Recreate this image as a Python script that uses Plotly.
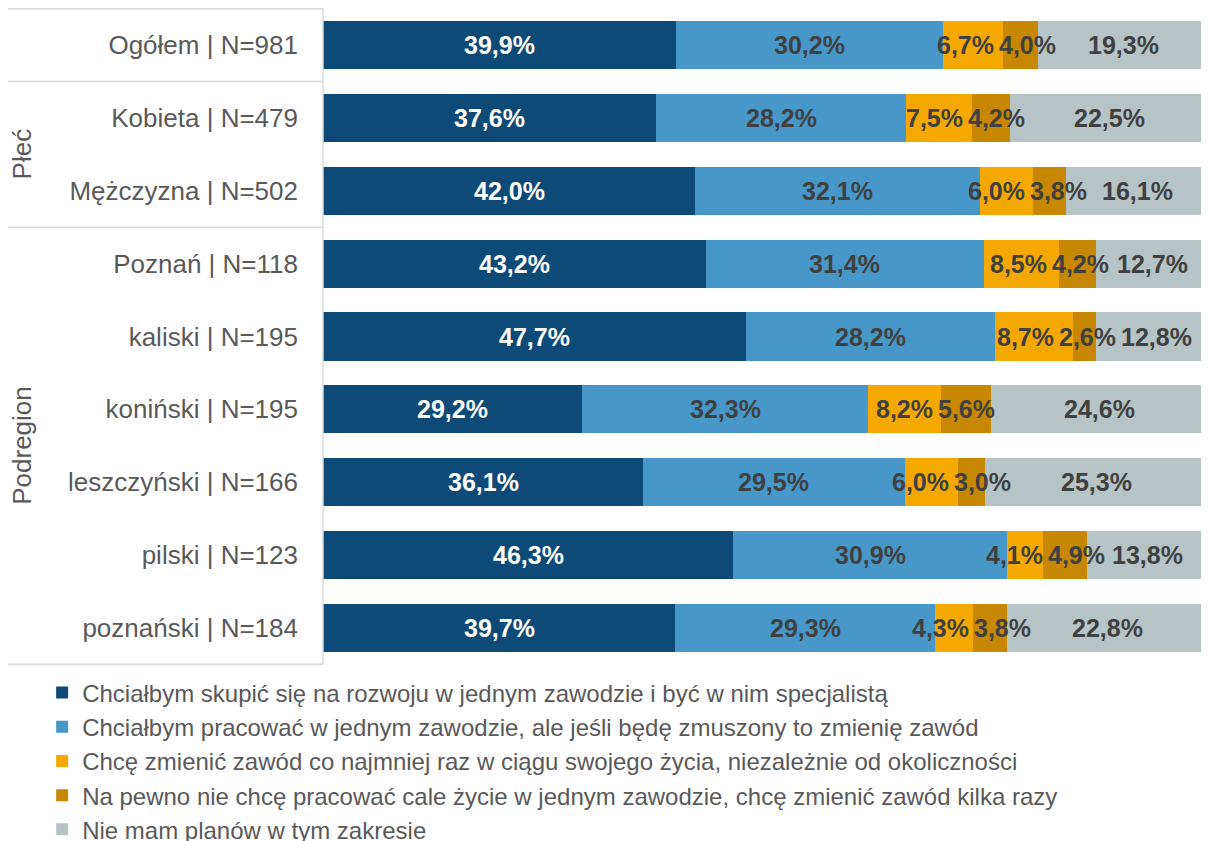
import plotly.graph_objects as go

categories = ["Ogółem | N=981", "Kobieta | N=479", "Mężczyzna | N=502",
              "Poznań | N=118", "kaliski | N=195", "koniński | N=195",
              "leszczyński | N=166", "pilski | N=123", "poznański | N=184"]

series_names = [
    "Chciałbym skupić się na rozwoju w jednym zawodzie i być w nim specjalistą",
    "Chciałbym pracować w jednym zawodzie, ale jeśli będę zmuszony to zmienię zawód",
    "Chcę zmienić zawód co najmniej raz w ciągu swojego życia, niezależnie od okoliczności",
    "Na pewno nie chcę pracować cale życie w jednym zawodzie, chcę zmienić zawód kilka razy",
    "Nie mam planów w tym zakresie",
]

s1 = [39.9, 37.6, 42.0, 43.2, 47.7, 29.2, 36.1, 46.3, 39.7]
s2 = [30.2, 28.2, 32.1, 31.4, 28.2, 32.3, 29.5, 30.9, 29.3]
s3 = [6.7, 7.5, 6.0, 8.5, 8.7, 8.2, 6.0, 4.1, 4.3]
s4 = [4.0, 4.2, 3.8, 4.2, 2.6, 5.6, 3.0, 4.9, 3.8]
s5 = [19.3, 22.5, 16.1, 12.7, 12.8, 24.6, 25.3, 13.8, 22.8]

group_labels = ["Płeć", "Podregion"]

colors = ["#0E4A77", "#4797C9", "#F5A800", "#C78700", "#B7C4C6"]
text_colors = ["#FFFFFF", "#404040", "#404040", "#404040", "#404040"]
FONT = "Liberation Sans, Arial, sans-serif"
LABEL_SIZE = 25
PLOT_W = 886  # plot-area width in px (figure width minus margins)

all_series = [s1, s2, s3, s4, s5]
totals = [sum(col) for col in zip(*all_series)]


def fmt(v):
    return f"{v:.1f}%".replace(".", ",")


def text_width(s, size):
    w = {"%": 0.889, ",": 0.278}
    return sum(w.get(ch, 0.556) for ch in s) * size


fig = go.Figure()
for name, vals, col in zip(series_names, all_series, colors):
    fig.add_trace(go.Bar(
        y=categories, x=vals, name=name, orientation="h",
        marker=dict(color=col, line=dict(width=0)),
        textposition="none", hoverinfo="name+x+y",
    ))

# data labels: centred in each segment, nudged apart where they would collide
annotations = []
gap = 5
for j, cat in enumerate(categories):
    row = [s[j] for s in all_series]
    cum = 0.0
    centers, pcts, widths = [], [], []
    for v in row:
        pct = v / totals[j] * 100
        centers.append(cum + pct / 2)
        pcts.append(pct)
        widths.append(text_width(fmt(v), LABEL_SIZE))
        cum += pct
    px = [c * PLOT_W / 100 for c in centers]
    new = list(px)
    for _ in range(60):
        for i in range(len(new) - 1):
            ov = (new[i] + widths[i] / 2 + gap) - (new[i + 1] - widths[i + 1] / 2)
            if ov > 0:
                new[i] -= ov / 2
                new[i + 1] += ov / 2
        over = new[-1] + widths[-1] / 2 - (PLOT_W - 6)
        if over > 0:
            new[-1] -= over
    for i, v in enumerate(row):
        annotations.append(dict(
            x=centers[i], y=cat, xref="x", yref="y", xshift=new[i] - px[i],
            text=fmt(v), showarrow=False,
            font=dict(family=FONT, size=LABEL_SIZE, color=text_colors[i], weight="bold"),
        ))

line_col = "#D9D9D9"
shapes = []
x_left = -0.3555
for yv in [-0.5, 0.5, 2.5, 8.5]:
    shapes.append(dict(type="line", xref="paper", yref="y", x0=x_left, x1=0, y0=yv, y1=yv,
                       line=dict(color=line_col, width=1.5)))
shapes.append(dict(type="line", xref="paper", yref="y", x0=0, x1=0, y0=-0.5, y1=8.5,
                   line=dict(color=line_col, width=1.5)))

annotations += [
    dict(text=group_labels[0], xref="paper", yref="y", x=-0.3397, y=1.5, textangle=-90,
         xanchor="center", yanchor="middle",
         showarrow=False, font=dict(family=FONT, size=26, color="#595959")),
    dict(text=group_labels[1], xref="paper", yref="y", x=-0.3397, y=5.5, textangle=-90,
         xanchor="center", yanchor="middle",
         showarrow=False, font=dict(family=FONT, size=26, color="#595959")),
]

fig.update_layout(
    barmode="stack", barnorm="percent", bargap=0.34,
    width=1201, height=833,
    margin=dict(l=315, r=0, t=0, b=176, autoexpand=False),
    paper_bgcolor="white", plot_bgcolor="white",
    font=dict(family=FONT, color="#595959"),
    xaxis=dict(range=[0, 100], showgrid=False, showticklabels=False, zeroline=False, visible=False),
    yaxis=dict(autorange="reversed", showgrid=False, ticks="", ticklabelstandoff=24,
               tickfont=dict(size=26, color="#595959")),
    legend=dict(orientation="v", x=-0.317, xanchor="left", y=-0.0083, yanchor="top",
                font=dict(size=24, color="#595959"), traceorder="normal", tracegroupgap=0,
                itemwidth=30),
    shapes=shapes, annotations=annotations,
    showlegend=True,
)

fig.write_html("out.html")
